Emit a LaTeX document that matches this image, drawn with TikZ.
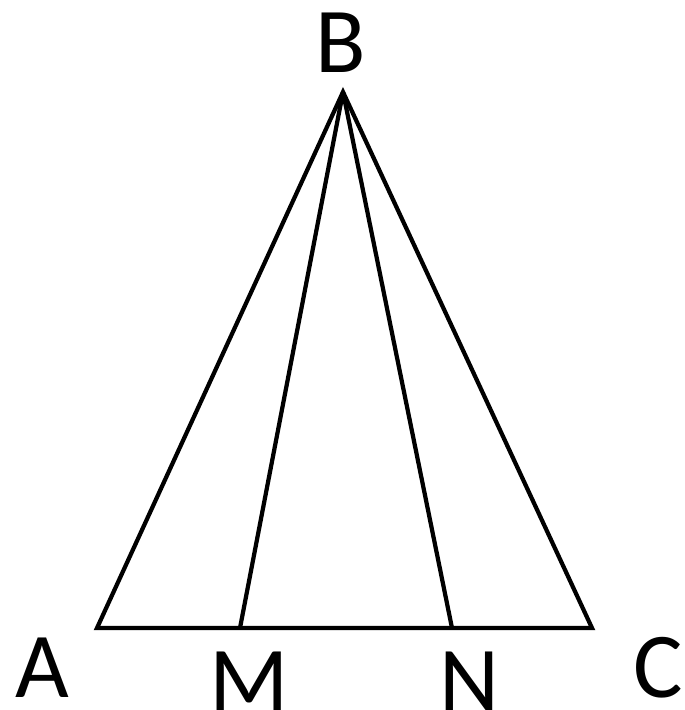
\documentclass[tikz,border=0pt]{standalone}
\usepackage{fontspec}
\setmainfont{Carlito}
\usetikzlibrary{positioning}
\tikzset{
    side/.style={line width=3pt, line join=miter, black},
    ptlabel/.style={font=\fontsize{66}{70}\selectfont, inner sep=0pt},
}
\begin{document}
\begin{tikzpicture}[x=0.025cm, y=-0.025cm]
    \useasboundingbox (0,0) rectangle (684,710);
    % vertices
    \coordinate (B) at (343,92);
    \coordinate (A) at (97,628);
    \coordinate (C) at (592,628);
    \coordinate (M) at (240,628);
    \coordinate (N) at (452,628);
    % triangle and cevians
    \draw[side] (A) -- (B) -- (C) -- cycle;
    \draw[side] (B) -- (M);
    \draw[side] (B) -- (N);
    % labels
    \node[ptlabel] (lB) at (341,43) {B};
    \node[ptlabel] (lA) at (42,668) {A};
    \node[ptlabel] (lM) at (249,682) {M};
    \node[ptlabel] (lN) at (469,682) {N};
    \node[ptlabel] (lC) at (658,668) {C};
\end{tikzpicture}
\end{document}
